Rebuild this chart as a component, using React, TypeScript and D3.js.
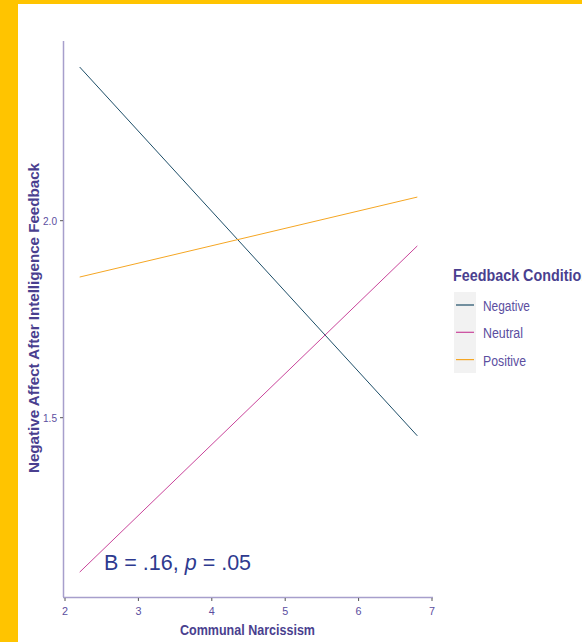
import React from "react";
import * as d3 from "d3";

const conditions = ["Negative", "Neutral", "Positive"];
const colors = ["#1d4e68", "#c9449a", "#f5a623"];
const xStart = [2.2, 2.2, 2.2];
const xEnd = [6.8, 6.8, 6.8];
const yStart = [2.39, 1.108, 1.857];
const yEnd = [1.454, 1.936, 2.06];
const xTicks = [2, 3, 4, 5, 6, 7];
const yTicks = [1.5, 2.0];
const legendLabelWidths = [47, 40, 43];

const W = 582;
const H = 642;

export default function App() {
  const x = d3.scaleLinear().domain([2, 7]).range([65, 432]);
  const y = d3.scaleLinear().domain([1.5, 2.0]).range([417.7, 220.7]);
  const line = d3
    .line<[number, number]>()
    .x((d) => x(d[0]))
    .y((d) => y(d[1]));
  const axisColor = "#a79fcc";
  const textColor = "#5b4ea0";
  const titleColor = "#4a3f8f";
  const font = "'Liberation Sans', Arial, sans-serif";
  return (
    <div style={{ position: "fixed", left: 0, top: 0 }}>
      <svg width={W} height={H} style={{ display: "block" }}>
        <rect x={0} y={0} width={W} height={H} fill="#ffffff" />
        <rect x={0} y={0} width={18} height={H} fill="#ffc400" />
        <rect x={0} y={0} width={W} height={4} fill="#ffc400" />
        {/* axes */}
        <line x1={63.5} x2={63.5} y1={41} y2={597} stroke={axisColor} strokeWidth={1.5} />
        <line x1={63} x2={433} y1={597.5} y2={597.5} stroke={axisColor} strokeWidth={1.5} />
        {xTicks.map((t) => (
          <g key={t}>
            <line x1={x(t)} x2={x(t)} y1={598} y2={601} stroke="#555" strokeWidth={1} />
            <text
              x={x(t)}
              y={615}
              textAnchor="middle"
              fontFamily={font}
              fontSize={11}
              textLength={6}
              lengthAdjust="spacingAndGlyphs"
              fill={textColor}
            >
              {t}
            </text>
          </g>
        ))}
        {yTicks.map((t) => (
          <g key={t}>
            <line x1={60} x2={63} y1={y(t)} y2={y(t)} stroke="#555" strokeWidth={1} />
            <text
              x={57}
              y={y(t) + 4}
              textAnchor="end"
              fontFamily={font}
              fontSize={11}
              textLength={14}
              lengthAdjust="spacingAndGlyphs"
              fill={textColor}
            >
              {t.toFixed(1)}
            </text>
          </g>
        ))}
        <text
          x={180}
          y={635}
          fontFamily={font}
          fontWeight="bold"
          fontSize={15}
          textLength={135}
          lengthAdjust="spacingAndGlyphs"
          fill={titleColor}
        >
          Communal Narcissism
        </text>
        <text
          transform={`translate(39,473) rotate(-90)`}
          fontFamily={font}
          fontWeight="bold"
          fontSize={14}
          textLength={310}
          lengthAdjust="spacingAndGlyphs"
          fill={titleColor}
        >
          Negative Affect After Intelligence Feedback
        </text>
        {/* lines */}
        {conditions.map((c, i) => (
          <path
            key={c}
            d={line([
              [xStart[i], yStart[i]],
              [xEnd[i], yEnd[i]],
            ]) as string}
            fill="none"
            stroke={colors[i]}
            strokeWidth={1}
          />
        ))}
        <text
          x={104}
          y={570}
          fontFamily={font}
          fontSize={21.5}
          fill="#2e3a8f"
        >
          B = .16, <tspan fontStyle="italic">p</tspan> = .05
        </text>
        {/* legend */}
        <text
          x={453}
          y={281}
          fontFamily={font}
          fontWeight="bold"
          fontSize={16}
          textLength={137}
          lengthAdjust="spacingAndGlyphs"
          fill={titleColor}
        >
          Feedback Condition
        </text>
        <rect x={454} y={292} width={22} height={81} fill="#f2f2f2" />
        {conditions.map((c, i) => (
          <g key={c}>
            <line
              x1={456}
              x2={474}
              y1={305 + i * 27.3}
              y2={305 + i * 27.3}
              stroke={colors[i]}
              strokeWidth={1.2}
            />
            <text
              x={483}
              y={311 + i * 27.3}
              fontFamily={font}
              fontSize={14}
              textLength={legendLabelWidths[i]}
              lengthAdjust="spacingAndGlyphs"
              fill={textColor}
            >
              {c}
            </text>
          </g>
        ))}
      </svg>
    </div>
  );
}
